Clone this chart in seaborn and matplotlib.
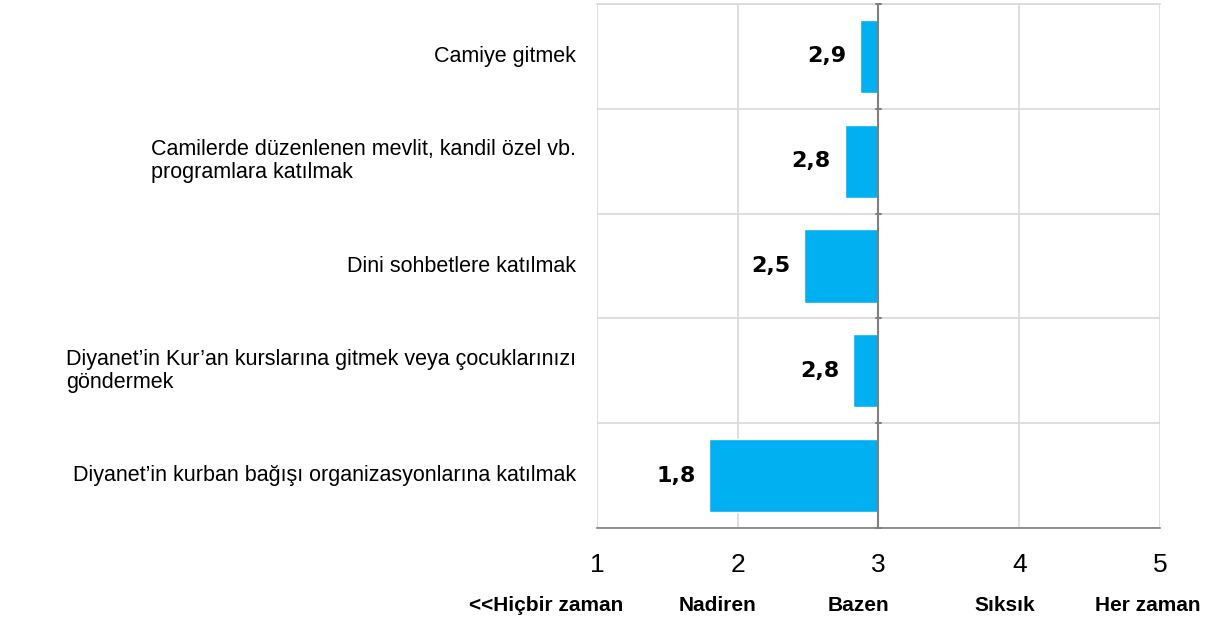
import matplotlib
matplotlib.use('Agg')
import matplotlib.pyplot as plt
import matplotlib.transforms as mtransforms
import seaborn as sns
import numpy as np

# veriler
kategoriler = ['Camiye gitmek',
               'Camilerde düzenlenen mevlit, kandil özel vb.\nprogramlara katılmak',
               'Dini sohbetlere katılmak',
               'Diyanet\u2019in Kur\u2019an kurslarına gitmek veya çocuklarınızı\ngöndermek',
               'Diyanet\u2019in kurban bağışı organizasyonlarına katılmak']
degerler = [2.87, 2.76, 2.47, 2.82, 1.80]
etiketler = ['2,9', '2,8', '2,5', '2,8', '1,8']
olcek_deger = [1, 2, 3, 4, 5]
olcek_adlari = ['<<Hiçbir zaman', 'Nadiren', 'Bazen', 'Sıksık', 'Her zaman']
olcek_konum = [0.64, 1.86, 2.855, 3.90, 4.915]

sns.set_theme(style='white')
plt.rcParams['font.family'] = ['Liberation Sans', 'DejaVu Sans']

fig, ax = plt.subplots(figsize=(12.23, 6.18), dpi=100)
fig.subplots_adjust(left=0.488, right=0.9485, top=0.9935, bottom=0.1456)

y = np.arange(len(kategoriler))
genislik = [d - 3 for d in degerler]
ax.barh(y, genislik, left=3, height=0.7, color='#00b0f0', zorder=3)

ax.set_xlim(1, 5)
ax.set_ylim(len(kategoriler) - 0.5, -0.5)

# izgara
ax.set_xticks(olcek_deger)
ax.set_xticklabels([str(v) for v in olcek_deger], fontsize=19, color='black')
ax.set_yticks(y)
ax.set_yticklabels([])
ax.set_yticks(np.arange(-0.5, len(kategoriler), 1), minor=True)
ax.grid(True, axis='x', color='#d9d9d9', lw=1.2, zorder=0)
ax.grid(True, axis='y', which='minor', color='#d9d9d9', lw=1.2, zorder=0)
ax.tick_params(axis='y', which='both', length=0)
ax.tick_params(axis='x', length=8, width=1.2, color='#808080', direction='out', pad=10)

for s in ['left', 'right']:
    ax.spines[s].set_visible(False)
ax.spines['top'].set_color('#d9d9d9')
ax.spines['top'].set_linewidth(1.2)
ax.spines['bottom'].set_color('#808080')
ax.spines['bottom'].set_linewidth(1.2)

# 3 noktasinda dikey eksen
ax.axvline(3, color='#808080', lw=1.5, zorder=4)
for b in np.arange(-0.5, len(kategoriler), 1):
    ax.plot([2.985, 3.015], [b, b], color='#808080', lw=1.5, zorder=4, clip_on=False)

# kategori etiketleri
for i, k in enumerate(kategoriler):
    ax.annotate(k, xy=(1, i), xycoords='data', xytext=(-15, 0), textcoords='offset points',
                ha='right', va='center', multialignment='left', fontsize=15.5,
                color='black', linespacing=1.1)

# deger etiketleri
for i, (d, e) in enumerate(zip(degerler, etiketler)):
    ax.annotate(e, xy=(d, i), xytext=(-10, 0), textcoords='offset points',
                ha='right', va='center', fontsize=16, fontweight='heavy',
                family=['DejaVu Sans'], color='black')

# olcek adlari
tr = mtransforms.blended_transform_factory(ax.transData, fig.transFigure)
for k, ad in zip(olcek_konum, olcek_adlari):
    ax.text(k, 0.021, ad, transform=tr, ha='center', va='center', fontsize=15,
            fontweight='bold', color='black')

fig.savefig('out.png', dpi=100)
